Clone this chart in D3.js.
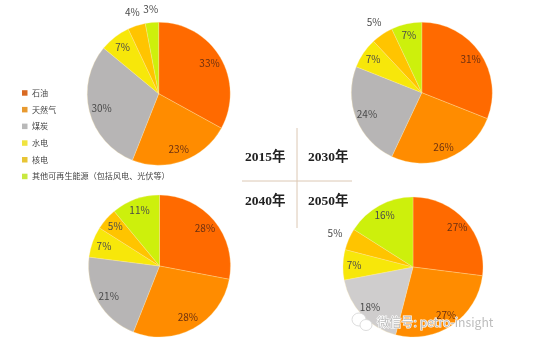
<!DOCTYPE html>
<html>
<head>
<meta charset="utf-8">
<script src="https://cdn.jsdelivr.net/npm/d3@7"></script>
<style>
    html, body { margin: 0; padding: 0; background: #fff; }
    svg { display: block; filter: blur(0.45px); }
</style>
</head>
<body>
<div id="chart"></div>
<script>
const fuels = ['石油', '天然气', '煤炭', '水电', '核电', '其他可再生能源（包括风电、光伏等）']
const years = ['2015年', '2030年', '2040年', '2050年']
const share2015 = [33, 23, 30, 7, 4, 3]
const share2030 = [31, 26, 24, 7, 5, 7]
const share2040 = [28, 28, 21, 7, 5, 11]
const share2050 = [27, 27, 18, 7, 5, 16]

const width = 533
const height = 351
const sansFont = '"Noto Sans CJK SC", "Noto Sans", sans-serif'
const serifFont = '"Liberation Serif", "Noto Sans CJK SC", serif'

const sliceColours = ['#ff6a00', '#ff8c00', '#b7b5b5', '#f7e70a', '#ffc400', '#cdf00c']
const legendColours = ['#d96a22', '#e89a30', '#b9b9b9', '#f0e440', '#e8c535', '#c8e840']

const svg = d3.select('#chart').append('svg')
    .attr('width', width)
    .attr('height', height)

// Pies; outside lists the slices whose label sits beyond the circle
const pies = [
    { values: share2015, cx: 158.7, cy: 93.7, r: 71.5, coal: '#b7b5b5', outside: [4, 5] },
    { values: share2030, cx: 421.8, cy: 92.7, r: 70.5, coal: '#b7b5b5', outside: [4] },
    { values: share2040, cx: 159.5, cy: 266, r: 71, coal: '#b7b5b5', outside: [] },
    { values: share2050, cx: 413, cy: 267, r: 70, coal: '#cfcdcd', outside: [4] }
]

const pieLayout = d3.pie().sort(null)

pies.forEach(p => {
    const arc = d3.arc().innerRadius(0).outerRadius(p.r)
    const innerLabel = d3.arc().innerRadius(59).outerRadius(59)
    const outerLabel = d3.arc().innerRadius(85).outerRadius(85)

    const g = svg.append('g')
        .attr('transform', `translate(${p.cx}, ${p.cy})`)

    const slices = pieLayout(p.values)

    g.selectAll('path')
        .data(slices)
        .join('path')
        .attr('d', arc)
        .attr('fill', (d, i) => i === 2 ? p.coal : sliceColours[i])
        .attr('stroke', '#ffe9b0')
        .attr('stroke-width', 0.3)

    g.selectAll('text')
        .data(slices)
        .join('text')
        .attr('transform', (d, i) => `translate(${(p.outside.includes(i) ? outerLabel : innerLabel).centroid(d)})`)
        .attr('text-anchor', 'middle')
        .attr('dy', '0.35em')
        .style('font-family', sansFont)
        .style('font-size', '10px')
        .style('fill', (d, i) => i < 2 ? '#6b3010' : '#4a4a4a')
        .text(d => d.value + '%')
})

// Legend
const legendY = d3.scalePoint()
    .domain(fuels)
    .range([93, 176.5])

const legend = svg.selectAll('.legend')
    .data(fuels)
    .join('g')
    .attr('class', 'legend')
    .attr('transform', d => `translate(22, ${legendY(d)})`)

legend.append('rect')
    .attr('y', -2.8)
    .attr('width', 5.5)
    .attr('height', 5.5)
    .attr('fill', (d, i) => legendColours[i])

legend.append('text')
    .attr('x', 10)
    .attr('dy', '0.35em')
    .style('font-family', sansFont)
    .style('font-size', '8.1px')
    .style('fill', '#444')
    .text(d => d)

// Cross in the middle with the years around it
svg.append('line')
    .attr('x1', 297).attr('x2', 297)
    .attr('y1', 128).attr('y2', 228)
    .attr('stroke', '#dcc8b4')
    .attr('stroke-width', 1)

svg.append('line')
    .attr('x1', 242).attr('x2', 352)
    .attr('y1', 181).attr('y2', 181)
    .attr('stroke', '#dcc8b4')
    .attr('stroke-width', 1)

const yearX = [245, 308, 245, 308]
const yearY = [161, 161, 205, 205]

svg.selectAll('.year')
    .data(years)
    .join('text')
    .attr('class', 'year')
    .attr('x', (d, i) => yearX[i])
    .attr('y', (d, i) => yearY[i])
    .style('font-family', serifFont)
    .style('font-size', '13.5px')
    .style('font-weight', 'bold')
    .style('fill', '#222')
    .text(d => d)

// Watermark
svg.append('ellipse')
    .attr('cx', 359).attr('cy', 319.5).attr('rx', 7).attr('ry', 6.5)
    .attr('fill', '#fff').attr('stroke', '#d4d4d4').attr('stroke-width', 0.8)
svg.append('ellipse')
    .attr('cx', 366).attr('cy', 325).attr('rx', 6).attr('ry', 5.5)
    .attr('fill', '#fff').attr('stroke', '#d4d4d4').attr('stroke-width', 0.8)

svg.append('text')
    .attr('x', 377)
    .attr('y', 327)
    .style('font-family', sansFont)
    .style('font-size', '12.2px')
    .style('fill', '#bdbdbd')
    .style('stroke', '#fff')
    .style('stroke-width', 1.2)
    .style('paint-order', 'stroke')
    .text('微信号: petro-insight')
</script>
</body>
</html>
